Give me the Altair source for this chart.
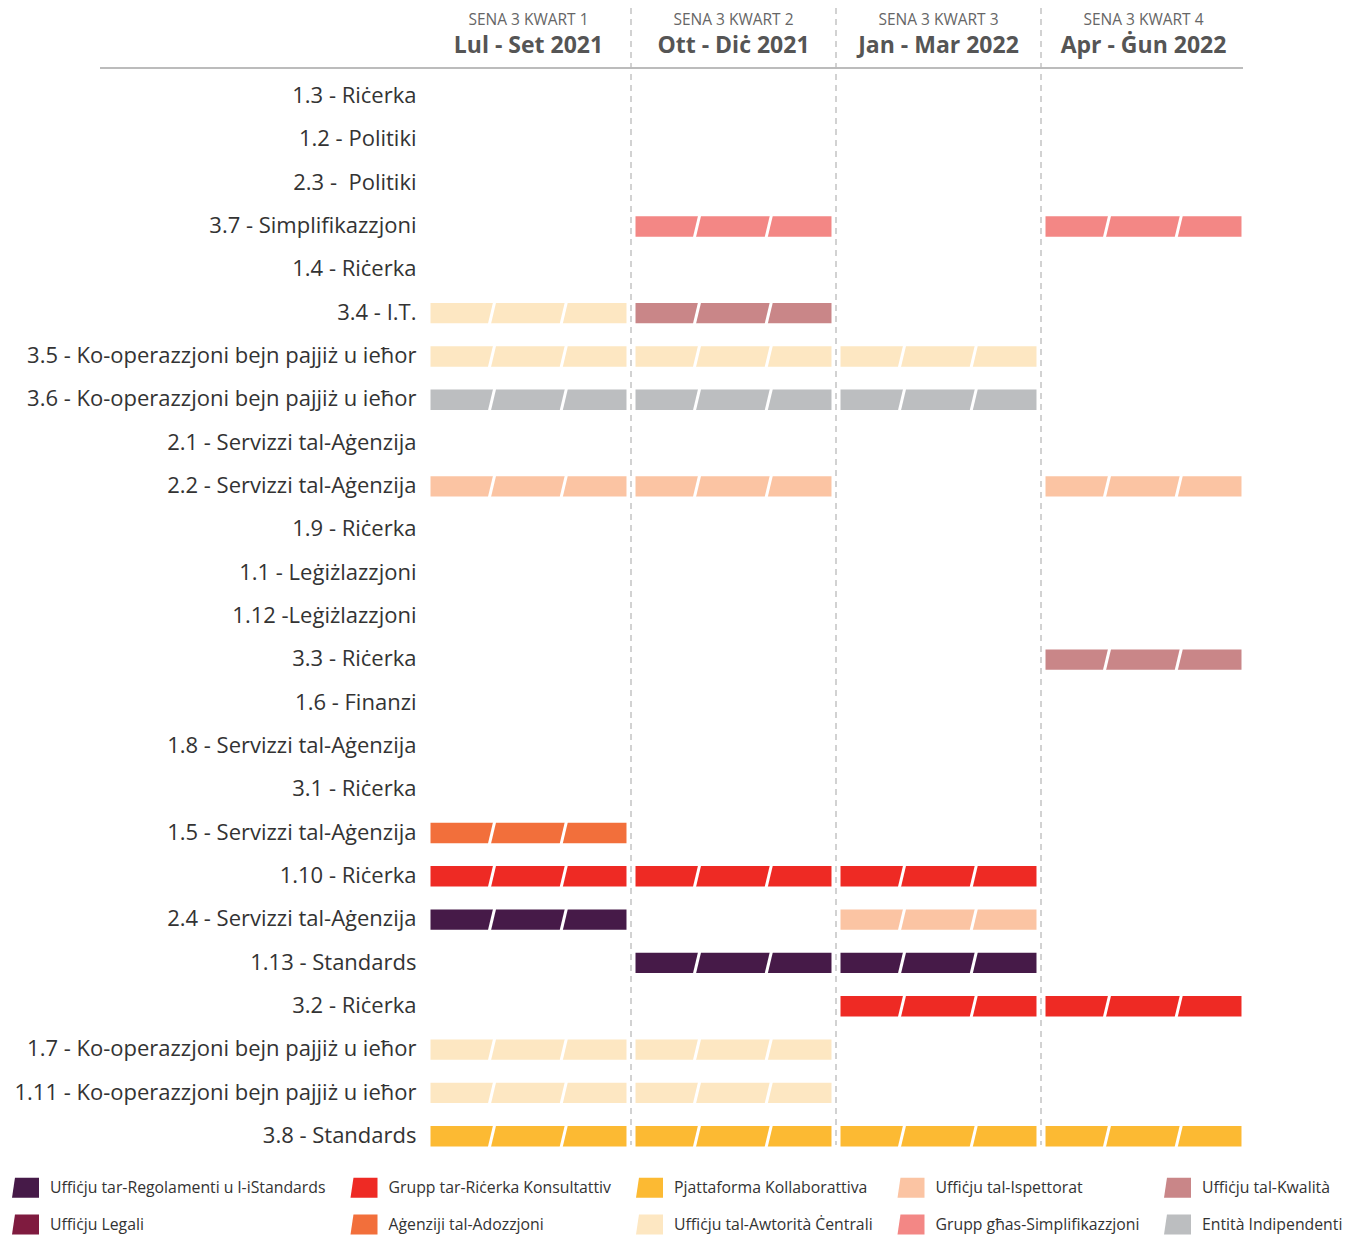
import json
import altair as alt
import pandas as pd

rows = [
    "1.3 - Riċerka", "1.2 - Politiki", "2.3 -\u00a0 Politiki", "3.7 - Simplifikazzjoni",
    "1.4 - Riċerka", "3.4 - I.T.", "3.5 - Ko-operazzjoni bejn pajjiż u ieħor",
    "3.6 - Ko-operazzjoni bejn pajjiż u ieħor", "2.1 - Servizzi tal-Aġenzija",
    "2.2 - Servizzi tal-Aġenzija", "1.9 - Riċerka", "1.1 - Leġiżlazzjoni",
    "1.12 -Leġiżlazzjoni", "3.3 - Riċerka", "1.6 - Finanzi",
    "1.8 - Servizzi tal-Aġenzija", "3.1 - Riċerka", "1.5 - Servizzi tal-Aġenzija",
    "1.10 - Riċerka", "2.4 - Servizzi tal-Aġenzija", "1.13 - Standards",
    "3.2 - Riċerka", "1.7 - Ko-operazzjoni bejn pajjiż u ieħor",
    "1.11 - Ko-operazzjoni bejn pajjiż u ieħor", "3.8 - Standards",
]

quarter_names = ["SENA 3 KWART 1", "SENA 3 KWART 2", "SENA 3 KWART 3", "SENA 3 KWART 4"]
quarter_periods = ["Lul - Set 2021", "Ott - Diċ 2021", "Jan - Mar 2022", "Apr - Ġun 2022"]

groups = [
    "Uffiċju tar-Regolamenti u l-iStandards", "Grupp tar-Riċerka Konsultattiv",
    "Pjattaforma Kollaborattiva", "Uffiċju tal-Ispettorat", "Uffiċju tal-Kwalità",
    "Uffiċju Legali", "Aġenziji tal-Adozzjoni", "Uffiċju tal-Awtorità Ċentrali",
    "Grupp għas-Simplifikazzjoni", "Entità Indipendenti",
]
colors = [
    "#461A48", "#EE2A24", "#FCBA33", "#FBC4A3", "#C98688",
    "#7F1B3F", "#F26F3B", "#FDE7C2", "#F38785", "#BCBEC0",
]

REG, RIC, PJA, ISP, KWA, LEG, ADO, AWT, SIM, ENT = groups

task_row = [
    "3.7 - Simplifikazzjoni", "3.7 - Simplifikazzjoni",
    "3.4 - I.T.", "3.4 - I.T.",
    "3.5 - Ko-operazzjoni bejn pajjiż u ieħor", "3.5 - Ko-operazzjoni bejn pajjiż u ieħor",
    "3.5 - Ko-operazzjoni bejn pajjiż u ieħor",
    "3.6 - Ko-operazzjoni bejn pajjiż u ieħor", "3.6 - Ko-operazzjoni bejn pajjiż u ieħor",
    "3.6 - Ko-operazzjoni bejn pajjiż u ieħor",
    "2.2 - Servizzi tal-Aġenzija", "2.2 - Servizzi tal-Aġenzija", "2.2 - Servizzi tal-Aġenzija",
    "3.3 - Riċerka",
    "1.5 - Servizzi tal-Aġenzija",
    "1.10 - Riċerka", "1.10 - Riċerka", "1.10 - Riċerka",
    "2.4 - Servizzi tal-Aġenzija", "2.4 - Servizzi tal-Aġenzija",
    "1.13 - Standards", "1.13 - Standards",
    "3.2 - Riċerka", "3.2 - Riċerka",
    "1.7 - Ko-operazzjoni bejn pajjiż u ieħor", "1.7 - Ko-operazzjoni bejn pajjiż u ieħor",
    "1.11 - Ko-operazzjoni bejn pajjiż u ieħor", "1.11 - Ko-operazzjoni bejn pajjiż u ieħor",
    "3.8 - Standards", "3.8 - Standards", "3.8 - Standards", "3.8 - Standards",
]
task_quarter = [
    2, 4,
    1, 2,
    1, 2, 3,
    1, 2, 3,
    1, 2, 4,
    4,
    1,
    1, 2, 3,
    1, 3,
    2, 3,
    3, 4,
    1, 2,
    1, 2,
    1, 2, 3, 4,
]
task_group = [
    SIM, SIM,
    AWT, KWA,
    AWT, AWT, AWT,
    ENT, ENT, ENT,
    ISP, ISP, ISP,
    KWA,
    ADO,
    RIC, RIC, RIC,
    REG, ISP,
    REG, REG,
    RIC, RIC,
    AWT, AWT,
    AWT, AWT,
    PJA, PJA, PJA, PJA,
]

# ---- derived tables ----
tasks = pd.DataFrame({"row": task_row, "quarter": task_quarter, "group": task_group})
tasks["idx"] = tasks["row"].map({r: i for i, r in enumerate(rows)})
tasks["x0"] = tasks["quarter"] - 1 + 0.022
tasks["x1"] = tasks["quarter"] - 0.022
tasks["y0"] = tasks["idx"] - 0.215
tasks["y1"] = tasks["idx"] + 0.255

seps = []
for _, t in tasks.iterrows():
    for f in (0.322, 0.672):
        c = t["quarter"] - 1 + f
        seps.append({"xa": c - 0.013, "xb": c + 0.013, "ya": t["idx"] + 0.28, "yb": t["idx"] - 0.24})
seps = pd.DataFrame(seps)

heads = pd.DataFrame({"q": [i + 0.5 for i in range(4)], "name": quarter_names, "period": quarter_periods})
bounds = pd.DataFrame({"b": [1, 2, 3]})

FONT = "Open Sans"
xs = alt.Scale(domain=[0, 4], nice=False, zero=False)
ys = alt.Scale(domain=[-0.5, len(rows) - 0.5], nice=False, zero=False, reverse=True)

label_expr = json.dumps(rows, ensure_ascii=False) + "[datum.value]"

dashed = alt.Chart(bounds).mark_rule(color="#BBBBBB", strokeWidth=1.3, strokeDash=[6, 5]).encode(
    x=alt.X("b:Q", scale=xs, axis=None),
    y=alt.value(-66),
    y2=alt.value(1071),
)

header_rule = alt.Chart(bounds).mark_rule(color="#BBBBBB", strokeWidth=1.5).encode(
    x=alt.value(-326), x2=alt.value(817), y=alt.value(-6)
)

head_small = alt.Chart(heads).mark_text(font=FONT, fontSize=15.5, color="#666666", baseline="middle").encode(
    x=alt.X("q:Q", scale=xs, axis=None), y=alt.value(-54), text="name:N"
)
head_big = alt.Chart(heads).mark_text(font=FONT, fontSize=23, fontWeight="bold", color="#555555", baseline="middle").encode(
    x=alt.X("q:Q", scale=xs, axis=None), y=alt.value(-28), text="period:N"
)

bars = alt.Chart(tasks).mark_rect().encode(
    x=alt.X("x0:Q", scale=xs, axis=None),
    x2="x1:Q",
    y=alt.Y(
        "y0:Q",
        scale=ys,
        axis=alt.Axis(
            values=list(range(len(rows))), labelExpr=label_expr, domain=False, ticks=False,
            grid=False, labelFontSize=22, labelFont=FONT, labelColor="#333333",
            labelPadding=10, labelLimit=600, title=None,
        ),
    ),
    y2="y1:Q",
    color=alt.Color(
        "group:N",
        scale=alt.Scale(domain=groups, range=colors),
        legend=alt.Legend(
            title=None, orient="none", legendX=-414, legendY=1100, columns=5,
            direction="horizontal", columnPadding=24.5, rowPadding=13,
            symbolType="M-1,0.74L-0.78,-0.74L1,-0.74L1,0.74Z", symbolSize=729,
            symbolStrokeWidth=0, symbolOpacity=1, labelFont=FONT, labelFontSize=15.8,
            labelColor="#333333", labelOffset=11, labelLimit=400, padding=0,
        ),
    ),
)

separators = alt.Chart(seps).mark_rule(color="white", strokeWidth=3).encode(
    x=alt.X("xa:Q", scale=xs, axis=None), x2="xb:Q",
    y=alt.Y("ya:Q", scale=ys), y2="yb:Q",
)

chart = alt.layer(dashed, header_rule, head_small, head_big, bars, separators).properties(
    width=820,
    height=1083,
    padding={"left": 418, "top": 66, "right": 96, "bottom": 78},
    autosize=alt.AutoSizeParams(type="none"),
).configure_view(stroke=None)

chart.save("out.html", embed_options={"renderer": "svg", "actions": False})
